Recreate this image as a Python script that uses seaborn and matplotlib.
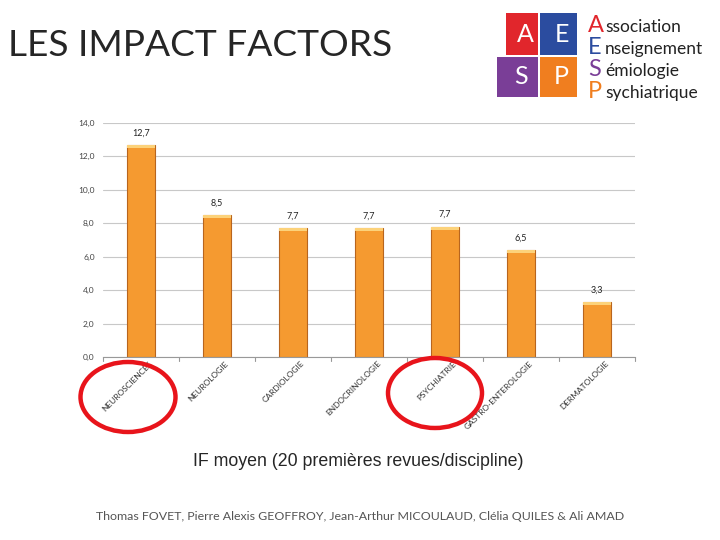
import matplotlib
matplotlib.use("Agg")
import matplotlib.pyplot as plt
import matplotlib.transforms as mtransforms
from matplotlib.patches import Ellipse, Rectangle
import seaborn as sns
import pandas as pd

disciplines = ["NEUROSCIENCES", "NEUROLOGIE", "CARDIOLOGIE", "ENDOCRINOLOGIE",
               "PSYCHIATRIE", "GASTRO-ENTEROLOGIE", "DERMATOLOGIE"]
impact = [12.7, 8.5, 7.7, 7.7, 7.8, 6.4, 3.3]
impact_labels = ["12,7", "8,5", "7,7", "7,7", "7,7", "6,5", "3,3"]
yticks = [0, 2, 4, 6, 8, 10, 12, 14]
ytick_labels = ["0,0", "2,0", "4,0", "6,0", "8,0", "10,0", "12,0", "14,0"]
circled = ["NEUROSCIENCES", "PSYCHIATRIE"]

sns.set_style("white")
plt.rcParams['font.family'] = ['Lato', 'DejaVu Sans']

df = pd.DataFrame({"discipline": disciplines, "IF": impact})

W, H = 720, 540
fig = plt.figure(figsize=(7.2, 5.4), dpi=100)


def fx(px):
    return px / W


def fy(py):
    return 1 - py / H


ax = fig.add_axes([fx(103), fy(357), fx(635) - fx(103), fy(123) - fy(357)])
sns.barplot(data=df, x="discipline", y="IF", ax=ax, color="#F59A30",
            width=0.38, saturation=1, edgecolor="#B8651E", linewidth=0.8)
# bande claire en haut de chaque barre
for p in ax.patches:
    ax.add_patch(Rectangle((p.get_x(), p.get_height() - 0.18), p.get_width(), 0.18,
                           color="#FCD27A", zorder=3, lw=0))
for i, (v, lab) in enumerate(zip(impact, impact_labels)):
    ax.text(i, v + 0.45, lab, ha="center", va="bottom", fontsize=6.5, color="#222222")

ax.set_ylim(0, 14)
ax.set_xlim(-0.5, len(disciplines) - 0.5)
ax.set_yticks(yticks)
ax.set_yticklabels(ytick_labels, fontsize=6, color="#444444")
ax.yaxis.grid(True, color="#C8C8C8", linewidth=0.8)
ax.set_axisbelow(True)
ax.set_xticklabels(disciplines, rotation=45, ha="right", rotation_mode="anchor",
                   fontsize=6, color="#333333")
ax.tick_params(axis="x", length=0, pad=2)
ax.tick_params(axis="y", length=0, pad=6)
shift = mtransforms.ScaledTranslation(8 / 100, 0, fig.dpi_scale_trans)
for t in ax.get_xticklabels():
    t.set_transform(t.get_transform() + shift)
ax.set_xlabel("")
ax.set_ylabel("")
for s in ["top", "right", "left"]:
    ax.spines[s].set_visible(False)
ax.spines["bottom"].set_color("#999999")
for i in range(len(disciplines) + 1):
    ax.plot([i - 0.5, i - 0.5], [0, -0.25], color="#999999", lw=0.8, clip_on=False)

# cercles rouges
for name, (cx, cy, w, h) in zip(circled, [(128, 397, 95, 70), (435, 393, 94, 70)]):
    fig.add_artist(Ellipse((fx(cx), fy(cy)), w / W, h / H, angle=0,
                           transform=fig.transFigure, fill=False,
                           edgecolor="#E8141B", lw=3.2))

# titre et textes
fig.text(fx(8), fy(46), "LES IMPACT FACTORS", fontsize=26.7, va="center", ha="left")
fig.text(fx(358), fy(461), "IF moyen (20 premières revues/discipline)",
         fontsize=12.8, ha="center", va="center",
         family=["Liberation Sans", "DejaVu Sans"])
fig.text(fx(360), fy(516),
         "Thomas FOVET, Pierre Alexis GEOFFROY, Jean-Arthur MICOULAUD, Clélia QUILES & Ali AMAD",
         fontsize=8.9, ha="center", va="center", color="#555555")

# logo AESP
quads = [("A", 506, 13, 32, 42, "#E1262C"), ("E", 540, 13, 37, 42, "#2B4C9F"),
         ("S", 497, 57, 41, 40, "#7A3E97"), ("P", 540, 57, 37, 40, "#F07E1F")]
for letter, x0, y0, w, h, col in quads:
    fig.add_artist(Rectangle((fx(x0), fy(y0 + h)), w / W, h / H,
                             transform=fig.transFigure, color=col, lw=0))
    fig.text(fx(x0 + w / 2 + 3), fy(y0 + h / 2), letter, color="white", fontsize=18,
             ha="center", va="center")
words = [("A", "ssociation", "#E1262C"), ("E", "nseignement", "#2B4C9F"),
         ("S", "émiologie", "#7A3E97"), ("P", "sychiatrique", "#F07E1F")]
for k, (cap, rest, col) in enumerate(words):
    yy = fy(25 + k * 22)
    fig.text(fx(588), yy, cap, color=col, fontsize=17, ha="left", va="center")
    fig.text(fx(605), yy - 0.003, rest, color="#222222", fontsize=12.5, ha="left",
             va="center")

fig.savefig("out.png", dpi=100)
